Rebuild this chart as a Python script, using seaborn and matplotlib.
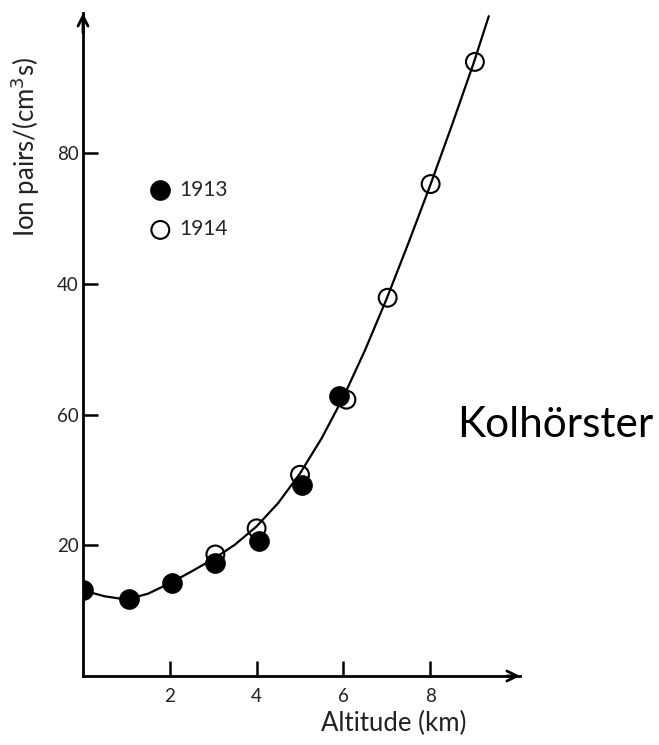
import numpy as np
import pandas as pd
import matplotlib
matplotlib.use("Agg")
import matplotlib.pyplot as plt
import seaborn as sns

# ---- data ----
alt_1913 = [0.0, 1.05, 2.05, 3.05, 4.05, 5.05, 5.9]
ion_1913 = [13.1, 11.8, 14.2, 17.3, 20.6, 29.2, 42.9]

alt_1914 = [3.05, 4.0, 5.0, 6.07, 7.02, 8.01, 9.03]
ion_1914 = [18.6, 22.6, 30.8, 42.3, 57.9, 75.3, 94.0]

curve_alt = [0.0, 0.5, 1.0, 1.5, 2.0, 2.5, 3.0, 3.5, 4.0, 4.5, 5.0, 5.5,
             6.0, 6.5, 7.0, 7.5, 8.0, 8.5, 9.0, 9.35]
curve_ion = [13.1, 12.2, 11.7, 12.6, 14.2, 16.0, 17.9, 20.1, 22.9, 26.5,
             31.0, 36.4, 42.7, 49.9, 57.8, 66.3, 75.1, 84.3, 93.8, 101.0]

x_ticks = [2, 4, 6, 8]
x_tick_labels = ["2", "4", "6", "8"]
y_ticks = [20, 40, 60, 80]
y_tick_labels = ["20", "60", "40", "80"]

sns.set_theme(style="white")
plt.rcParams["font.family"] = ["Lato", "DejaVu Sans"]

W, H = 659, 745
fig = plt.figure(figsize=(W / 100, H / 100), dpi=100)
x0, x1 = 83, 520
y0, y1 = 676, 13
ax = fig.add_axes([x0 / W, 1 - y0 / H, (x1 - x0) / W, (y0 - y1) / H])

curve = pd.DataFrame({"alt": curve_alt, "ion": curve_ion})
d13 = pd.DataFrame({"alt": alt_1913, "ion": ion_1913})
d14 = pd.DataFrame({"alt": alt_1914, "ion": ion_1914})

sns.lineplot(data=curve, x="alt", y="ion", ax=ax, color="black", lw=1.6,
             sort=False, zorder=2)
sns.scatterplot(data=d14, x="alt", y="ion", ax=ax, s=165, marker="o",
                facecolor="none", edgecolor="black", linewidth=1.5,
                label="1914", zorder=3)
sns.scatterplot(data=d13, x="alt", y="ion", ax=ax, s=205, marker="o",
                color="black", edgecolor="black", linewidth=0.5,
                label="1913", zorder=4)

ax.set_xlim(0, (x1 - x0) / 43.4)
ax.set_ylim(0, (y0 - y1) / 6.533)

for s in ["top", "right"]:
    ax.spines[s].set_visible(False)
for s in ["left", "bottom"]:
    ax.spines[s].set_linewidth(2.0)
    ax.spines[s].set_color("black")

# arrow heads
ax.annotate("", xy=(1.0, 0), xytext=(0.97, 0), xycoords="axes fraction",
            arrowprops=dict(arrowstyle="->", lw=2.0, color="black",
                            mutation_scale=18, shrinkA=0, shrinkB=0))
ax.annotate("", xy=(0, 1.0), xytext=(0, 0.97), xycoords="axes fraction",
            arrowprops=dict(arrowstyle="->", lw=2.0, color="black",
                            mutation_scale=18, shrinkA=0, shrinkB=0))

ax.set_xticks(x_ticks)
ax.set_xticklabels(x_tick_labels)
ax.set_yticks(y_ticks)
ax.set_yticklabels(y_tick_labels)
ax.tick_params(axis="both", direction="in", length=11, width=1.8,
               color="black", labelcolor="#222222", labelsize=13.5,
               left=True, bottom=True)
ax.tick_params(axis="x", pad=9)
ax.tick_params(axis="y", pad=3)

ax.set_xlabel("Altitude (km)", fontsize=18.5, color="#222222")
ax.xaxis.set_label_coords((394 - x0) / (x1 - x0), (y0 - 711) / (y0 - y1))
ax.set_ylabel("Ion pairs/(cm$^3$s)", fontsize=18.5, color="#222222")
ax.yaxis.set_label_coords((42 - x0) / (x1 - x0), (y0 - 147) / (y0 - y1))

handles, labels = ax.get_legend_handles_labels()
order = [labels.index("1913"), labels.index("1914")]
leg = ax.legend([handles[i] for i in order], [labels[i] for i in order],
                loc="center left",
                bbox_to_anchor=((152 - x0) / (x1 - x0), (y0 - 209.5) / (y0 - y1)),
                frameon=False, fontsize=15, handlelength=0.8,
                handletextpad=0.5, labelspacing=0.95, borderpad=0,
                borderaxespad=0)

fig.text(457 / W, 1 - 425 / H, "Kolhörster", fontsize=30.5, ha="left",
         va="center", color="black")

fig.savefig("out.png", dpi=100, facecolor="white")
